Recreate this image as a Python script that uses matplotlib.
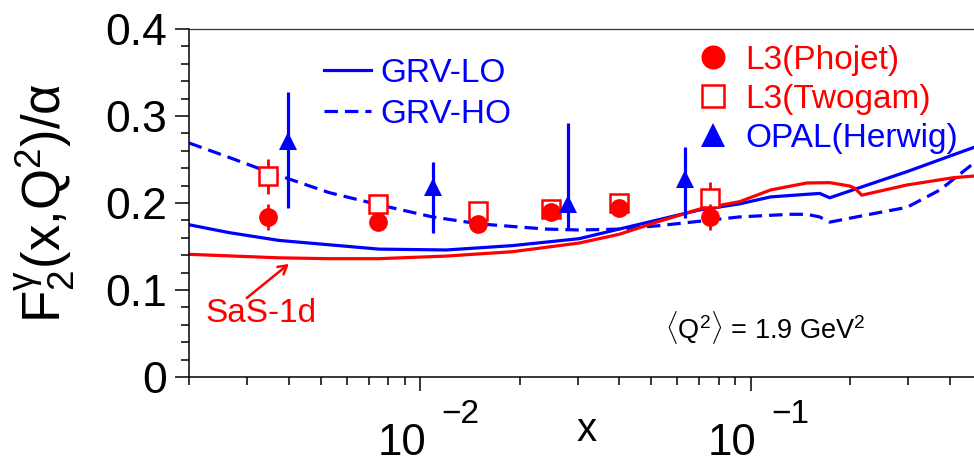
import matplotlib
matplotlib.use('Agg')
import numpy as np
import matplotlib.pyplot as plt
from matplotlib.ticker import LogLocator, MultipleLocator, NullFormatter, FixedLocator

plt.rcParams['font.family'] = ['Liberation Sans', 'DejaVu Sans']
plt.rcParams['mathtext.fontset'] = 'custom'
plt.rcParams['mathtext.rm'] = 'Liberation Sans'
plt.rcParams['mathtext.it'] = 'Liberation Sans'
plt.rcParams['mathtext.bf'] = 'Liberation Sans:bold'

RED = '#ff0000'
BLUE = '#0000ff'

# ---------------- data ----------------
# GRV-LO (solid blue)
x_lo = [0.002, 0.00264, 0.00374, 0.0053, 0.0075, 0.012, 0.019, 0.0303, 0.04, 0.053,
        0.07, 0.0926, 0.115, 0.1478, 0.1618, 0.1735, 0.297, 0.474]
y_lo = [0.175, 0.166, 0.157, 0.152, 0.147, 0.146, 0.151, 0.159, 0.170, 0.181,
        0.192, 0.199, 0.207, 0.210, 0.211, 0.206, 0.236, 0.264]

# GRV-HO (dashed blue)
x_ho = [0.002, 0.00264, 0.00346, 0.0053, 0.0075, 0.0109, 0.0151, 0.0241, 0.0303, 0.04,
        0.053, 0.07, 0.0926, 0.1313, 0.1478, 0.1618, 0.1735, 0.2294, 0.297, 0.3739, 0.474]
y_ho = [0.269, 0.2525, 0.236, 0.212, 0.198, 0.184, 0.176, 0.170, 0.169, 0.170,
        0.174, 0.179, 0.184, 0.187, 0.187, 0.184, 0.178, 0.187, 0.195, 0.215, 0.246]

# SaS-1d (solid red)
x_sas = [0.002, 0.00374, 0.0053, 0.0075, 0.012, 0.019, 0.0303, 0.04, 0.053, 0.07,
         0.0926, 0.115, 0.1478, 0.1735, 0.1995, 0.2065, 0.217, 0.297, 0.4093, 0.474]
y_sas = [0.141, 0.137, 0.136, 0.136, 0.139, 0.144, 0.154, 0.164, 0.179, 0.193,
         0.2015, 0.215, 0.223, 0.2234, 0.2195, 0.217, 0.209, 0.2207, 0.229, 0.231]

# L3 data points
x_l3 = [0.00346, 0.00746, 0.0150, 0.0249, 0.0401, 0.0751]
y_phojet = [0.184, 0.178, 0.176, 0.190, 0.194, 0.184]
e_phojet = [0.015, 0.006, 0.006, 0.006, 0.006, 0.015]
y_twogam = [0.2305, 0.199, 0.191, 0.193, 0.200, 0.206]
e_twogam = [0.020, 0.008, 0.006, 0.006, 0.006, 0.018]

# OPAL data points
x_opal = [0.00398, 0.01095, 0.0281, 0.0631]
y_opal = [0.271, 0.218, 0.199, 0.228]
lo_opal = [0.194, 0.166, 0.171, 0.183]
hi_opal = [0.328, 0.247, 0.292, 0.264]

xlim = (0.002, 0.474)
ylim = (0.0, 0.4)
ymajor = [0.0, 0.1, 0.2, 0.3, 0.4]
ymajor_labels = ['0', '0.1', '0.2', '0.3', '0.4']
xmajor = [0.01, 0.1]
xmajor_exp = ['\u22122', '\u22121']

# ---------------- figure ----------------
W, H = 974, 463
fig = plt.figure(figsize=(W / 100, H / 100), dpi=100)
ax = fig.add_axes([189 / W, 1 - 377 / H, 785 / W, 348 / H])

lw = 2.3
l_lo, = ax.plot(x_lo, y_lo, color=BLUE, lw=lw, zorder=2)
l_ho, = ax.plot(x_ho, y_ho, color=BLUE, lw=lw, ls=(0, (4.2, 2.2)), zorder=2)
ax.plot(x_sas, y_sas, color=RED, lw=lw, zorder=2)

c_tw = ax.errorbar(x_l3, y_twogam, yerr=e_twogam, fmt='s', ms=12.5, mfc='white',
                   mec=RED, mew=1.8, ecolor=RED, elinewidth=2.0, capsize=0, zorder=4)
c_ph = ax.errorbar(x_l3, y_phojet, yerr=e_phojet, fmt='o', ms=13.5, mfc=RED,
                   mec=RED, mew=0, ecolor=RED, elinewidth=2.0, capsize=0, zorder=5)
opal_err = [np.array(y_opal) - np.array(lo_opal), np.array(hi_opal) - np.array(y_opal)]
c_op = ax.errorbar(x_opal, y_opal, yerr=opal_err, fmt='^', ms=13.5, mfc=BLUE,
                   mec=BLUE, mew=0, ecolor=BLUE, elinewidth=2.3, capsize=0, zorder=6)

ax.set_xscale('log')
ax.set_xlim(*xlim)
ax.set_ylim(*ylim)

# spines
for s in ['left', 'bottom']:
    ax.spines[s].set_linewidth(1.1)
ax.spines['right'].set_visible(False)
ax.spines['top'].set_linewidth(0.9)
ax.spines['top'].set_color('#333333')

# ticks
ax.yaxis.set_major_locator(FixedLocator(ymajor))
ax.set_yticklabels(ymajor_labels)
ax.yaxis.set_minor_locator(MultipleLocator(0.02))
ax.xaxis.set_major_locator(FixedLocator(xmajor))
ax.set_xticklabels(['' for _ in xmajor])
ax.xaxis.set_minor_locator(LogLocator(base=10, subs=np.arange(2, 10)))
ax.xaxis.set_minor_formatter(NullFormatter())
ax.tick_params(which='major', direction='out', length=10, width=1.1, labelsize=32, pad=6)
ax.tick_params(which='minor', direction='out', length=5.8, width=1.1)
ax.tick_params(top=False, right=False, which='both')

for v, e in zip(xmajor, xmajor_exp):
    ax.annotate('10', xy=(v, 0), xycoords=('data', 'axes fraction'),
                xytext=(6, -78), textcoords='offset pixels',
                ha='right', va='baseline', fontsize=31.5)
    ax.annotate(e, xy=(v, 0), xycoords=('data', 'axes fraction'),
                xytext=(21, -46), textcoords='offset pixels',
                ha='left', va='baseline', fontsize=24)

ax.set_xlabel('x', fontsize=29)
ax.xaxis.set_label_coords((587 - 189) / 785, -0.099)
ax.set_ylabel('F$_2^{\\gamma}$(x,Q$^2$)/\u03b1', fontsize=38)
ax.yaxis.set_label_coords(-0.141, 0.5)

# legends
fs = 24
leg1 = ax.legend([l_lo, l_ho], ['GRV-LO', 'GRV-HO'], loc='upper left',
                 bbox_to_anchor=(324 / W, 1 - 58 / H), bbox_transform=fig.transFigure,
                 frameon=False, fontsize=fs, borderpad=0, borderaxespad=0,
                 handlelength=1.41, handletextpad=0.27, labelspacing=0.3,
                 labelcolor=[BLUE, BLUE])
ax.add_artist(leg1)
ax.legend([c_ph[0], c_tw[0], c_op[0]], ['L3(Phojet)', 'L3(Twogam)', 'OPAL(Herwig)'],
          loc='upper left', bbox_to_anchor=(696.3 / W, 1 - 44.7 / H),
          bbox_transform=fig.transFigure, frameon=False, fontsize=fs, borderpad=0,
          borderaxespad=0, handlelength=1.0, handletextpad=0.46, labelspacing=0.24,
          numpoints=1, markerscale=1.28, labelcolor=[RED, RED, BLUE])

# annotations
ax.text(0.002246, 0.0632, 'SaS-1d', color=RED, fontsize=24, ha='left', va='baseline')
ax.annotate('', xy=(0.00401, 0.130), xytext=(0.00299, 0.0908),
            arrowprops=dict(arrowstyle='->,head_length=0.6,head_width=0.35', color=RED, lw=1.8,
                            shrinkA=0, shrinkB=0))
ax.text((665 - 189) / 785, (377 - 339) / 348, r'$\langle$Q$^2\rangle$ = 1.9 GeV$^2$',
        transform=ax.transAxes, fontsize=19.5, ha='left', va='baseline')

fig.savefig('out.png', dpi=100)
